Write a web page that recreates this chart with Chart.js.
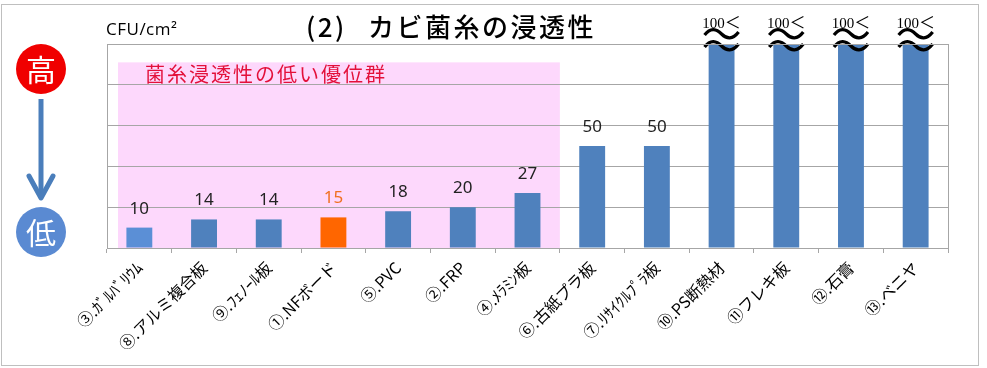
<!DOCTYPE html>
<html>
<head>
<meta charset="utf-8">
<script src="https://cdn.jsdelivr.net/npm/chart.js@4.4.1/dist/chart.umd.min.js"></script>
<style>
    html, body { margin: 0; padding: 0; background: #fff; }
    #wrap { width: 987px; height: 368px; position: relative; }
</style>
</head>
<body>
<div id="wrap"><canvas id="moldChart"></canvas></div>
<script>
const categories = ['③.ｶﾞﾙﾊﾞﾘｳﾑ', '⑧.アルミ複合板', '⑨.ﾌｪﾉｰﾙ板', '①.NFボード', '⑤.PVC', '②.FRP', '④.ﾒﾗﾐﾝ板',
    '⑥.古紙プラ板', '⑦.ﾘｻｲｸﾙﾌﾟﾗ板', '⑩.PS断熱材', '⑪フレキ板', '⑫.石膏', '⑬.ベニヤ'];
const cfuValues = [10, 14, 14, 15, 18, 20, 27, 50, 50, 100, 100, 100, 100];
const valueLabels = ['10', '14', '14', '15', '18', '20', '27', '50', '50', '100＜', '100＜', '100＜', '100＜'];
const barColors = ['#5B8FD6', '#4F81BD', '#4F81BD', '#FF6600', '#4F81BD', '#4F81BD', '#4F81BD',
    '#4F81BD', '#4F81BD', '#4F81BD', '#4F81BD', '#4F81BD', '#4F81BD'];
const labelColors = ['#222', '#222', '#222', '#F07020', '#222', '#222', '#222', '#222', '#222', '#000', '#000', '#000', '#000'];
const yTicks = [0, 20, 40, 60, 80, 100];
const lowGroupCount = 7;   // 菌糸浸透性の低い優位群
const lowGroupTop = 91;

const cjk = '"Noto Sans CJK JP", "Noto Sans", sans-serif';

// background, pink group box, outer frame
const backdrop = {
    id: 'backdrop',
    beforeDraw(chart) {
        const { ctx, chartArea, scales } = chart;
        ctx.save();
        ctx.fillStyle = '#fff';
        ctx.fillRect(0, 0, chart.width, chart.height);

        const x = scales.x, y = scales.y;
        const left = chartArea.left + 11;
        const right = (x.getPixelForValue(lowGroupCount - 1) + x.getPixelForValue(lowGroupCount)) / 2;
        const top = y.getPixelForValue(lowGroupTop);
        ctx.fillStyle = '#FDD8FC';
        ctx.fillRect(left, top, right - left, chartArea.bottom - top);

        ctx.fillStyle = '#E3103A';
        ctx.font = '20px ' + cjk;
        ctx.letterSpacing = '2px';
        ctx.textBaseline = 'middle';
        ctx.fillText('菌糸浸透性の低い優位群', 145, 74);
        ctx.restore();
    },
    afterDraw(chart) {
        const { ctx, chartArea } = chart;
        ctx.save();
        // plot frame
        ctx.strokeStyle = '#A6A6A6';
        ctx.lineWidth = 1;
        ctx.strokeRect(Math.round(chartArea.left) + 0.5, Math.round(chartArea.top) + 0.5,
            Math.round(chartArea.right - chartArea.left), Math.round(chartArea.bottom - chartArea.top));
        // outer frame
        ctx.strokeStyle = '#BFBFBF';
        ctx.strokeRect(1.5, 4.5, 977, 361);

        // title + unit
        ctx.fillStyle = '#000';
        ctx.textBaseline = 'middle';
        ctx.textAlign = 'left';
        ctx.font = '500 26px ' + cjk;
        ctx.letterSpacing = '2.5px';
        ctx.fillText('(2)', 306, 27);
        ctx.fillText('カビ菌糸の浸透性', 368, 27);
        ctx.letterSpacing = '0.5px';
        ctx.font = '17px "Open Sans", sans-serif';
        ctx.fillText('CFU/cm²', 106, 30);
        ctx.letterSpacing = '0px';

        // 高 → 低 indicator
        ctx.fillStyle = '#F00000';
        ctx.beginPath(); ctx.arc(41, 69, 25, 0, Math.PI * 2); ctx.fill();
        ctx.fillStyle = '#5A8AD2';
        ctx.beginPath(); ctx.arc(41, 232, 25, 0, Math.PI * 2); ctx.fill();
        ctx.fillStyle = '#fff';
        ctx.textAlign = 'center';
        ctx.font = '30px ' + cjk;
        ctx.fillText('高', 41, 70);
        ctx.fillText('低', 41, 233);
        ctx.strokeStyle = '#4A7EBB';
        ctx.lineWidth = 5;
        ctx.beginPath(); ctx.moveTo(41, 99); ctx.lineTo(41, 196); ctx.stroke();
        ctx.lineCap = 'round';
        ctx.lineJoin = 'round';
        ctx.beginPath(); ctx.moveTo(29, 176); ctx.lineTo(41, 198); ctx.lineTo(53, 176); ctx.stroke();
        ctx.restore();
    }
};

// value labels above bars, with break marks on the 100＜ bars
const valueTags = {
    id: 'valueTags',
    afterDatasetsDraw(chart) {
        const { ctx } = chart;
        const bars = chart.getDatasetMeta(0).data;
        ctx.save();
        ctx.textAlign = 'center';
        ctx.textBaseline = 'alphabetic';
        bars.forEach((bar, i) => {
            const txt = valueLabels[i];
            ctx.fillStyle = labelColors[i];
            if (txt.endsWith('＜')) {
                const num = txt.slice(0, -1);
                ctx.font = '15px "Liberation Serif", serif';
                const w1 = ctx.measureText(num).width;
                ctx.font = '16px "Noto Sans CJK JP", sans-serif';
                const w2 = ctx.measureText('＜').width;
                const start = bar.x - (w1 + w2) / 2;
                ctx.textAlign = 'left';
                ctx.font = '15px "Liberation Serif", serif';
                ctx.fillText(num, start, 28);
                ctx.font = '16px "Noto Sans CJK JP", sans-serif';
                ctx.fillText('＜', start + w1, 28);
                ctx.textAlign = 'center';
                ctx.strokeStyle = '#000';
                ctx.lineWidth = 3.2;
                [34, 46].forEach(yy => {
                    ctx.beginPath();
                    ctx.moveTo(bar.x - 17, yy + 1);
                    ctx.bezierCurveTo(bar.x - 11, yy - 7, bar.x - 5, yy - 5, bar.x, yy);
                    ctx.bezierCurveTo(bar.x + 5, yy + 5, bar.x + 11, yy + 6, bar.x + 17, yy - 2);
                    ctx.stroke();
                });
            } else {
                ctx.font = '17px "Noto Sans", sans-serif';
                ctx.fillText(txt, bar.x, bar.y - 14);
            }
        });
        ctx.restore();
    }
};

new Chart(document.getElementById('moldChart'), {
    type: 'bar',
    data: {
        labels: categories,
        datasets: [{
            label: 'CFU/cm²',
            data: cfuValues,
            backgroundColor: barColors,
            barPercentage: 0.4,
            categoryPercentage: 1.0
        }]
    },
    options: {
        responsive: true,
        maintainAspectRatio: false,
        animation: false,
        layout: { padding: { top: 44, left: 107, right: 39, bottom: 0 } },
        plugins: {
            legend: { display: false },
            tooltip: { enabled: false }
        },
        scales: {
            x: {
                grid: { drawOnChartArea: false, offset: true, tickLength: 5, color: '#A6A6A6' },
                border: { color: '#A6A6A6' },
                ticks: {
                    autoSkip: false, minRotation: 45, maxRotation: 45, padding: 5,
                    color: '#000', font: { size: 16, family: cjk }
                },
                afterFit: (scale) => { scale.height = 120; }
            },
            y: {
                min: 0,
                max: 100,
                afterBuildTicks: (scale) => { scale.ticks = yTicks.map(v => ({ value: v })); },
                ticks: { display: false },
                grid: { color: '#A6A6A6', drawTicks: false },
                border: { color: '#A6A6A6' },
                afterFit: (scale) => { scale.width = 0; }
            }
        }
    },
    plugins: [backdrop, valueTags]
});
</script>
</body>
</html>
